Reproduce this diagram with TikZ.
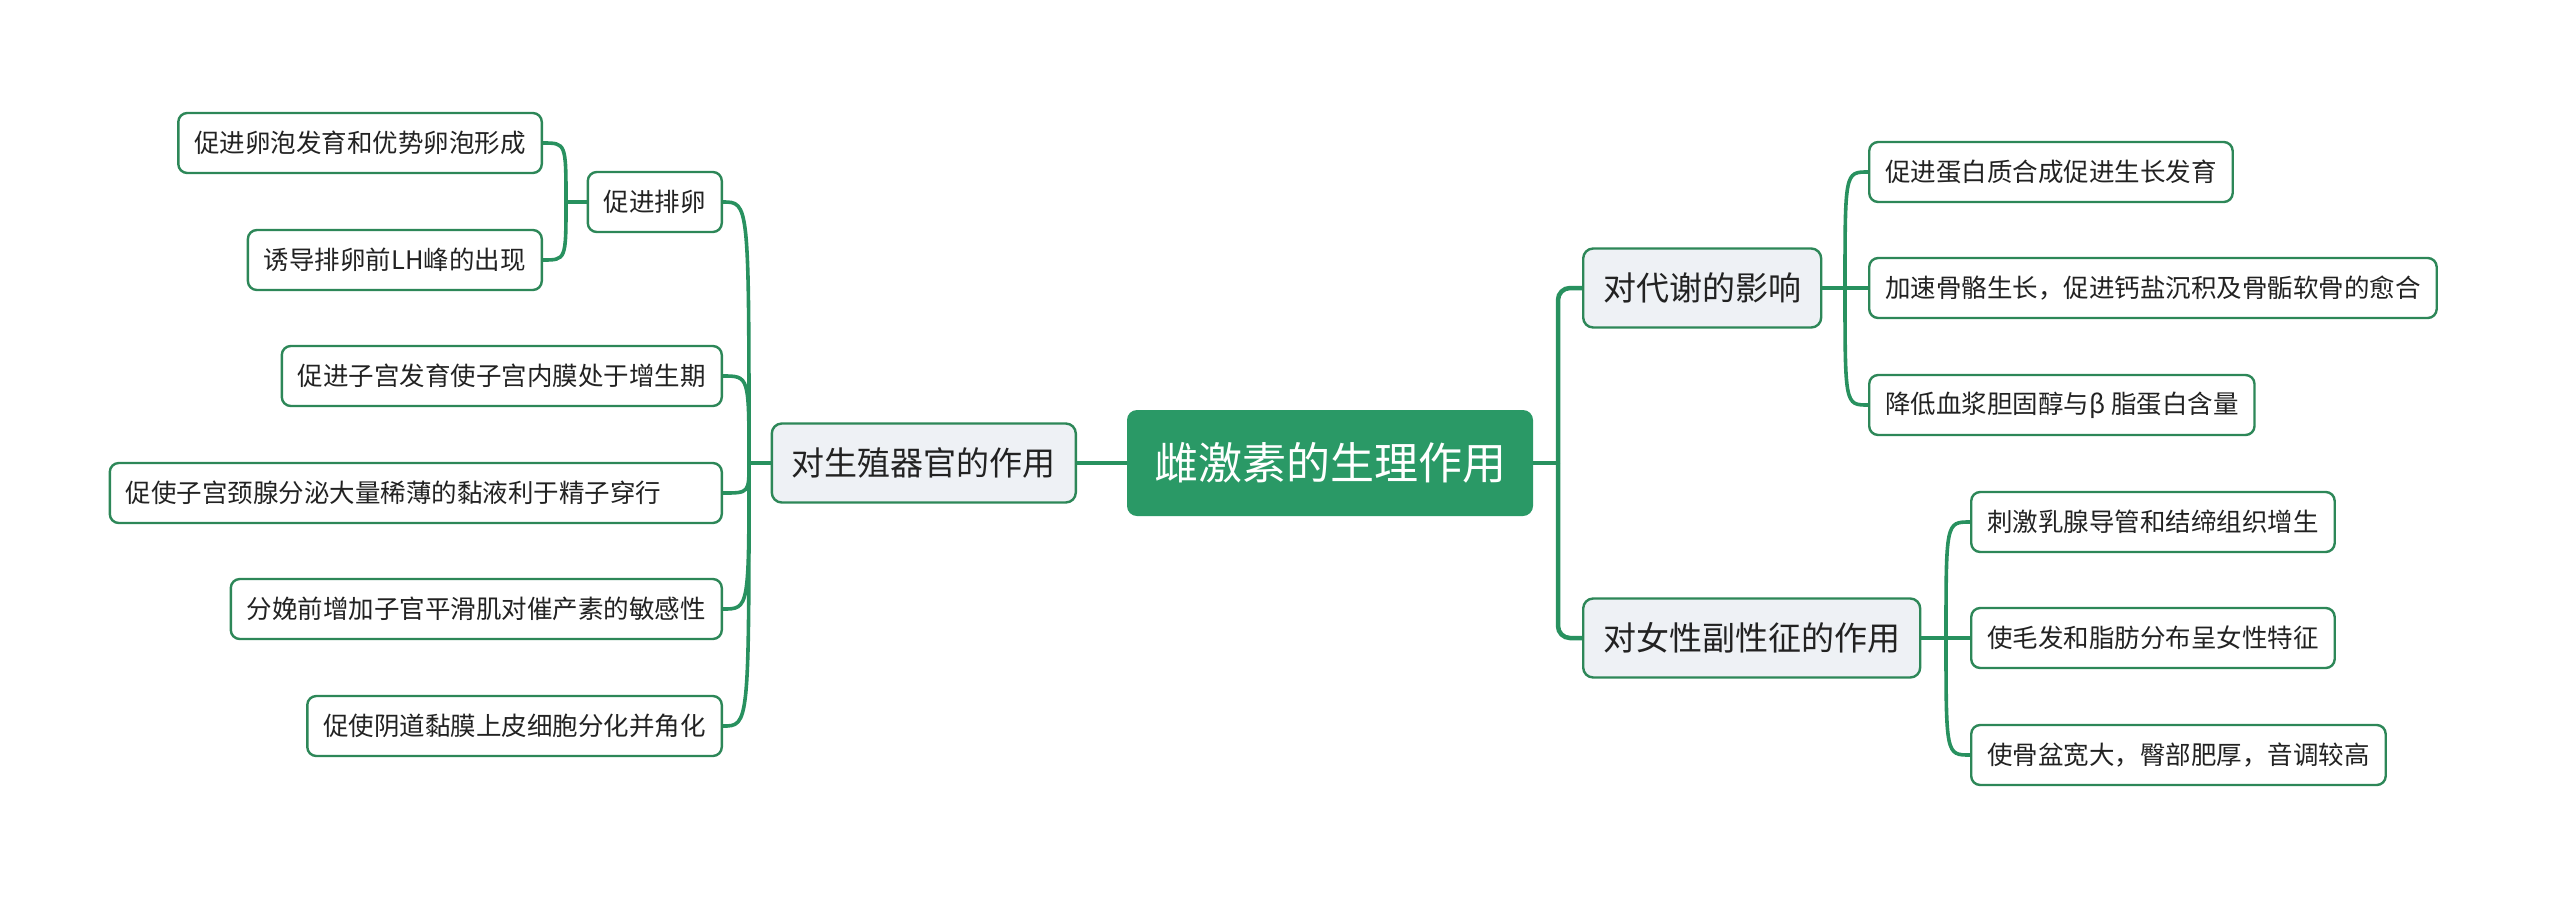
\documentclass[tikz,border=0pt]{standalone}
\usepackage{fontspec}
\newfontfamily\cjk{Noto Sans CJK SC}
\usetikzlibrary{calc,positioning}
\definecolor{rootgreen}{RGB}{42,153,102}
\definecolor{linegreen}{RGB}{40,145,95}
\definecolor{boxgreen}{RGB}{45,135,88}
\definecolor{topicfill}{RGB}{238,241,245}
\definecolor{inkgray}{RGB}{34,34,34}
\begin{document}
\begin{tikzpicture}[x=1pt,y=-1pt,
  rootbox/.style={fill=rootgreen, draw=none, rounded corners=10pt, text=white, font=\cjk\fontsize{44}{52}\selectfont, minimum height=106pt, inner xsep=27pt, inner ysep=0pt},
  topicbox/.style={fill=topicfill, draw=boxgreen, line width=2.4pt, rounded corners=10pt, text=inkgray, font=\cjk\fontsize{33}{40}\selectfont, minimum height=79pt, inner xsep=20pt, inner ysep=0pt},
  leafbox/.style={fill=white, draw=boxgreen, line width=2.4pt, rounded corners=9pt, text=inkgray, font=\cjk\fontsize{25.5}{31}\selectfont, minimum height=60pt, inner xsep=16pt, inner ysep=0pt},
  trunk/.style={draw=linegreen, line width=4.5pt},
  twig/.style={draw=linegreen, line width=3.6pt}]
\useasboundingbox (0,0) rectangle (2560,898);

\node[rootbox] (root) at (1330,463) {雌激素的生理作用};

\node[topicbox, anchor=east] (repro) at (1077,463) {对生殖器官的作用};
\node[topicbox, anchor=west] (metab) at (1582,288) {对代谢的影响};
\node[topicbox, anchor=west] (female) at (1582,638) {对女性副性征的作用};

\node[leafbox, anchor=east] (ovul) at (723,202) {促进排卵};
\node[leafbox, anchor=east] (follicle) at (543,143) {促进卵泡发育和优势卵泡形成};
\node[leafbox, anchor=east] (lhpeak) at (543,260) {诱导排卵前LH峰的出现};
\node[leafbox, anchor=east] (uterus) at (723,376) {促进子宫发育使子宫内膜处于增生期};
\node[leafbox, anchor=east, text width=580pt, align=left] (cervix) at (723,493) {促使子宫颈腺分泌大量稀薄的黏液利于精子穿行};
\node[leafbox, anchor=east] (oxytocin) at (723,609) {分娩前增加子官平滑肌对催产素的敏感性};
\node[leafbox, anchor=east] (vagina) at (723,726) {促使阴道黏膜上皮细胞分化并角化};

\node[leafbox, anchor=west] (protein) at (1868,172) {促进蛋白质合成促进生长发育};
\node[leafbox, anchor=west] (bone) at (1868,288) {加速骨骼生长，促进钙盐沉积及骨骺软骨的愈合};
\node[leafbox, anchor=west] (chol) at (1868,405) {降低血浆胆固醇与β 脂蛋白含量};

\node[leafbox, anchor=west] (breast) at (1970,522) {刺激乳腺导管和结缔组织增生};
\node[leafbox, anchor=west] (hair) at (1970,638) {使毛发和脂肪分布呈女性特征};
\node[leafbox, anchor=west] (pelvis) at (1970,755) {使骨盆宽大，臀部肥厚，音调较高};

\coordinate (jr) at (1558,463);
\coordinate (jl) at (749,463);
\coordinate (jo) at (566,202);
\coordinate (jm) at (1845,288);
\coordinate (jf) at (1946,638);

\draw[trunk] (root.west) -- (repro.east);
\draw[trunk] (root.east) -- (jr);
\draw[trunk, rounded corners=12pt] (jr) |- (metab.west);
\draw[trunk, rounded corners=12pt] (jr) |- (female.west);

\draw[twig] (repro.west) -- (jl);
\foreach \c in {ovul,uterus,cervix,oxytocin,vagina}
  \draw[twig] (jl) .. controls (jl |- \c.east) .. (\c.east);
\draw[twig] (ovul.west) -- (jo);
\foreach \c in {follicle,lhpeak}
  \draw[twig] (jo) .. controls (jo |- \c.east) .. (\c.east);

\draw[twig] (metab.east) -- (jm);
\foreach \c in {protein,bone,chol}
  \draw[twig] (jm) .. controls (jm |- \c.west) .. (\c.west);
\draw[twig] (female.east) -- (jf);
\foreach \c in {breast,hair,pelvis}
  \draw[twig] (jf) .. controls (jf |- \c.west) .. (\c.west);
\end{tikzpicture}
\end{document}
